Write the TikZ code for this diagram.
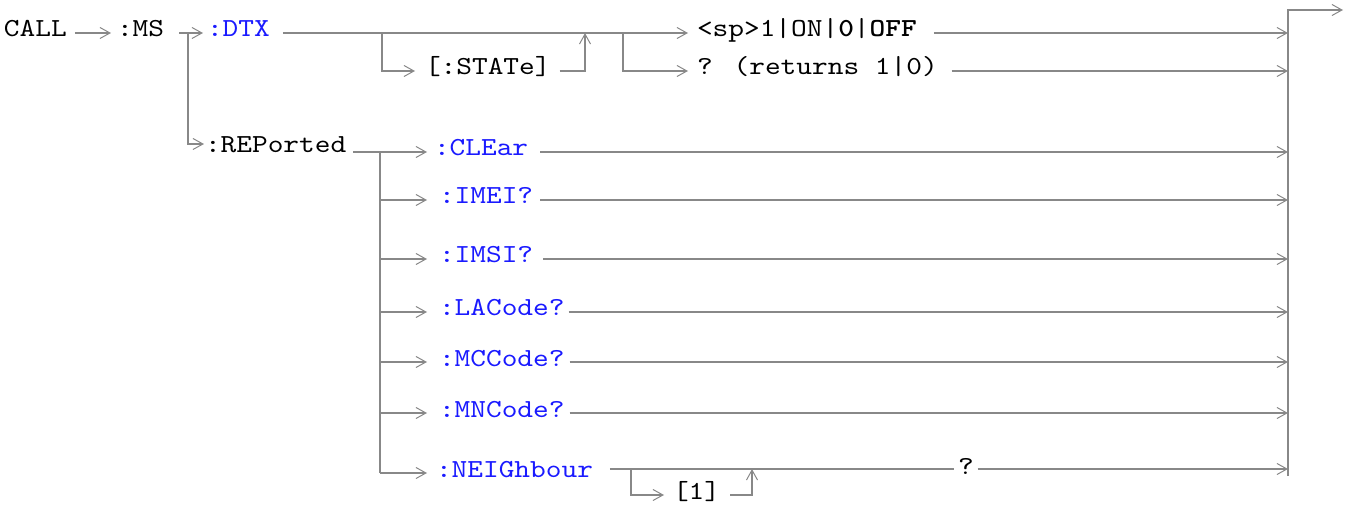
\documentclass[tikz,border=0pt]{standalone}
\usepackage{fontspec}
\newfontfamily\mono{lmmono10-regular.otf}[BoldFont=lmmonolt10-bold.otf, FakeStretch=1.15]
\usetikzlibrary{arrows.meta}
\definecolor{lgray}{RGB}{136,136,136}
\definecolor{kblue}{RGB}{26,26,255}
\begin{document}
\begin{tikzpicture}[x=1pt,y=-1pt,
  ln/.style={draw=lgray, line width=2pt},
  arr/.style={ln, -{Straight Barb[length=10pt,width=11pt,line width=1pt]}},
  kw/.style={inner sep=0pt, outer sep=0pt, anchor=base west, font=\mono\fontsize{26}{30}\selectfont},
  bl/.style={kw, text=kblue}]
\useasboundingbox (0,0) rectangle (1350,505);
% helper levels
\coordinate (Y0) at (0,33);
\coordinate (Y1) at (0,71);
\coordinate (YR) at (0,144);
\coordinate (YC) at (0,152);
\coordinate (YI) at (0,200);
\coordinate (YS) at (0,259);
\coordinate (YL) at (0,312);
\coordinate (YM) at (0,362);
\coordinate (YN) at (0,413);
\coordinate (YG) at (0,469);
\coordinate (YGi) at (0,473);
\coordinate (YB) at (0,495);
% junctions
\coordinate (jms) at (188,33);
\coordinate (jd1) at (382,33);
\coordinate (jd2) at (623,33);
\coordinate (jst) at (585,33);
\coordinate (jrep) at (380,152);
\coordinate (jng) at (631,469);
\coordinate (jb) at (752,469);
\coordinate (bartop) at (1288,10);
\coordinate (barbot) at (1288,476);
\coordinate (exit) at (1343,10);
% texts
\node[kw] (call) at (4,37) {CALL};
\node[kw] (ms) at (117,37) {:MS};
\node[bl] (dtx) at (207,37) {:DTX};
\node[kw] (state) at (425,75) {[:STATe]};
\node[kw] (sp) at (697,37) {<sp>1|ON|\textbf{0}|\textbf{OFF}};
\node[kw] (qr) at (697,75) {? (returns 1|0)};
\node[kw] (rep) at (205,153) {:REPorted};
\node[bl] (clr) at (434,156) {:CLEar};
\node[bl] (imei) at (439,204) {:IMEI?};
\node[bl] (imsi) at (439,263) {:IMSI?};
\node[bl] (lac) at (439,316) {:LACode?};
\node[bl] (mcc) at (439,366) {:MCCode?};
\node[bl] (mnc) at (439,417) {:MNCode?};
\node[bl] (ngh) at (436,477) {:NEIGhbour};
\node[kw] (one) at (673,499) {[1]};
\node[kw] (qm) at (958,474) {?};
% top section
\draw[arr] ([xshift=8pt]call.east |- Y0) -- ([xshift=-6pt]ms.west |- Y0);
\draw[arr] ([xshift=15pt]ms.east |- Y0) -- ([xshift=-4pt]dtx.west |- Y0);
\draw[arr] (jms) |- ([xshift=-1pt]rep.west |- YR);
\draw[arr] ([xshift=13pt]dtx.east |- Y0) -- ([xshift=-9pt]sp.west |- Y0);
\draw[arr] (jd1) |- ([xshift=-10pt]state.west |- Y1);
\draw[arr] ([xshift=9pt]state.east |- Y1) -| (jst);
\draw[arr] (jd2) |- ([xshift=-9pt]qr.west |- Y1);
\draw[arr] ([xshift=17pt]sp.east |- Y0) -- (bartop |- Y0);
\draw[arr] ([xshift=14pt]qr.east |- Y1) -- (bartop |- Y1);
\draw[arr] (barbot) -- (bartop) -- (exit);
% REPorted section
\draw[ln] ([xshift=7pt]rep.east |- YC) -- (jrep);
\draw[ln] (jrep) -- (jrep |- YGi);
\draw[arr] (jrep) -- ([xshift=-7pt]clr.west |- YC);
\draw[arr] (jrep |- YI) -- ([xshift=-12pt]imei.west |- YI);
\draw[arr] (jrep |- YS) -- ([xshift=-12pt]imsi.west |- YS);
\draw[arr] (jrep |- YL) -- ([xshift=-12pt]lac.west |- YL);
\draw[arr] (jrep |- YM) -- ([xshift=-12pt]mcc.west |- YM);
\draw[arr] (jrep |- YN) -- ([xshift=-12pt]mnc.west |- YN);
\draw[arr] (jrep |- YGi) -- ([xshift=-9pt]ngh.west |- YGi);
\draw[arr] ([xshift=12pt]clr.east |- YC) -- (bartop |- YC);
\draw[arr] ([xshift=7pt]imei.east |- YI) -- (bartop |- YI);
\draw[arr] ([xshift=10pt]imsi.east |- YS) -- (bartop |- YS);
\draw[arr] ([xshift=4pt]lac.east |- YL) -- (bartop |- YL);
\draw[arr] ([xshift=5pt]mcc.east |- YM) -- (bartop |- YM);
\draw[arr] ([xshift=5pt]mnc.east |- YN) -- (bartop |- YN);
\draw[ln] ([xshift=17pt]ngh.east |- YG) -- ([xshift=-4pt]qm.west |- YG);
\draw[arr] ([xshift=4pt]qm.east |- YG) -- (bartop |- YG);
\draw[arr] (jng) |- ([xshift=-9pt]one.west |- YB);
\draw[arr] ([xshift=10pt]one.east |- YB) -| (jb);
\end{tikzpicture}
\end{document}
